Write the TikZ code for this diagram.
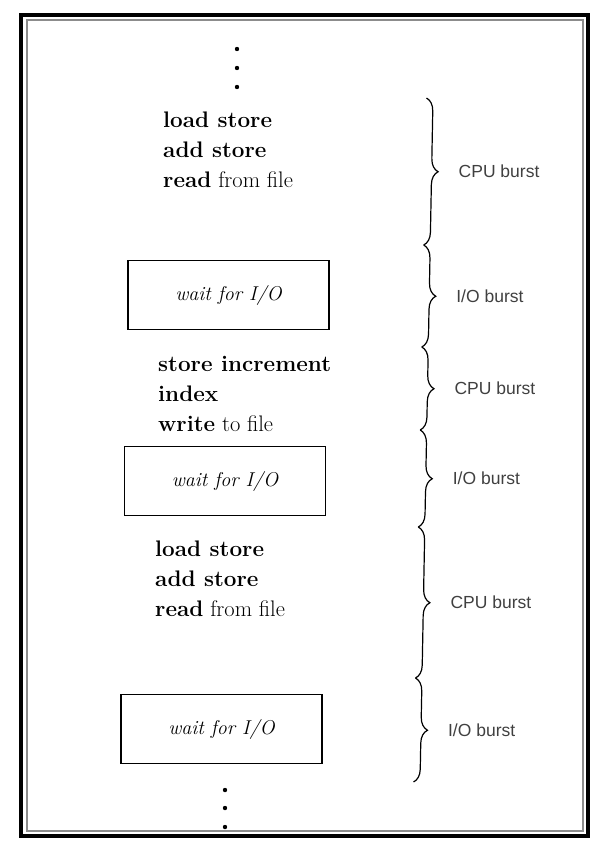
\documentclass[tikz,border=0pt]{standalone}
\usepackage{fontspec}
\newfontfamily\burstfont{Liberation Sans}
\usetikzlibrary{decorations.pathreplacing}
\tikzset{
  code/.style={anchor=west,align=left,inner sep=0pt,font=\fontsize{22.5}{30}\selectfont},
  waitbox/.style={draw,line width=1.6pt,minimum width=201pt,minimum height=69pt,inner sep=0pt,font=\fontsize{20}{24}\selectfont\itshape},
  burst/.style={anchor=west,inner sep=0pt,xshift=33pt,text=black!75,font=\burstfont\fontsize{17.5}{20}\selectfont},
  curly/.style={decorate,decoration={brace,amplitude=13pt},line width=1.2pt}
}
\begin{document}
\begin{tikzpicture}[x=1pt,y=-1pt]
\useasboundingbox (0,0) rectangle (596,844);
\draw[line width=3.5pt] (21,15) rectangle (588,836);
\draw[line width=1.3pt,black!45] (27,20) rectangle (583,831);
\foreach \y in {49,68,87} \fill (237,\y) circle (2.2);
\foreach \y in {790,808,827} \fill (225,\y) circle (2.2);
\node[code] (cpuA) at (163,150) {\textbf{load store}\\\textbf{add store}\\\textbf{read} from file};
\node[waitbox] (ioA) at (228.5,295) {wait for I/O};
\node[code] (cpuB) at (158,394) {\textbf{store increment}\\\textbf{index}\\\textbf{write} to file};
\node[waitbox] (ioB) at (225,481) {wait for I/O};
\node[code] (cpuC) at (155,579) {\textbf{load store}\\\textbf{add store}\\\textbf{read} from file};
\node[waitbox] (ioC) at (221.5,729) {wait for I/O};
\foreach \i/\x/\y in {0/426.5/98,1/423.7/245,2/421.8/347,3/420.2/430,4/418.3/527,5/415.5/678,6/413.5/782}
    \coordinate (b\i) at (\x,\y);
\foreach \a/\b in {0/1,2/3,4/5}
    \draw[curly] (b\a) -- node[burst] {CPU burst} (b\b);
\foreach \a/\b in {1/2,3/4,5/6}
    \draw[curly] (b\a) -- node[burst] {I/O burst} (b\b);
\end{tikzpicture}
\end{document}
